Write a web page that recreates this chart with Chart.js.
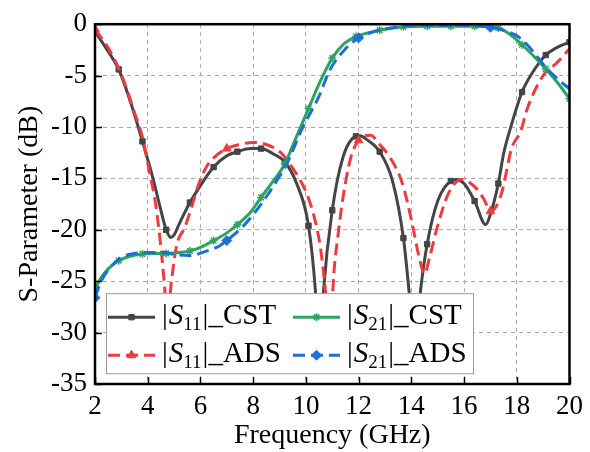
<!DOCTYPE html>
<html><head><meta charset="utf-8">
<script src="https://cdn.jsdelivr.net/npm/chart.js@4.4.1/dist/chart.umd.min.js"></script>
<style>html,body{margin:0;padding:0;background:#fff}#wrap{width:590px;height:452px;position:relative}</style>
</head><body><div id="wrap"><canvas id="c" width="590" height="452"></canvas></div>
<script>
// ---- data ----
const xTicks = [2, 4, 6, 8, 10, 12, 14, 16, 18, 20];
const yTicks = [0, -5, -10, -15, -20, -25, -30, -35];

const s11CstFreq = [2.0,2.45,2.9,3.35,3.8,4.2,4.45,4.7,4.88,5.0,5.2,5.6,6.0,6.5,7.0,7.4,7.9,8.3,8.75,9.2,9.65,10.1,10.36,10.52,10.67,11.0,11.4,11.9,12.05,12.3,12.8,13.28,13.7,13.91,14.13,14.35,14.6,15.0,15.5,15.7,16.0,16.4,16.82,17.0,17.3,17.5,17.75,18.2,18.55,19.1,19.5,20.0];
const s11CstDb   = [-0.7,-2.45,-4.4,-7.6,-11.4,-15.0,-17.6,-20.0,-20.75,-20.5,-19.4,-17.35,-15.7,-13.9,-12.8,-12.4,-12.1,-12.1,-12.6,-13.4,-15.5,-19.6,-25.9,-33.0,-25.9,-18.1,-13.0,-10.9,-10.85,-11.2,-12.4,-15.2,-20.8,-25.9,-32.0,-25.9,-21.4,-17.2,-15.25,-15.1,-15.5,-17.2,-19.5,-18.5,-15.5,-12.6,-10.2,-6.6,-4.9,-3.0,-2.3,-1.75];

const s11AdsFreq = [2.0,2.5,3.0,3.5,3.8,4.06,4.3,4.5,4.62,4.75,4.9,5.1,5.4,5.7,5.9,6.2,6.5,7.0,7.5,8.0,8.5,9.05,9.5,10.0,10.3,10.55,10.73,10.9,11.08,11.2,11.4,11.7,12.0,12.45,12.8,13.2,13.66,14.0,14.3,14.5,14.7,15.0,15.4,15.9,16.4,16.75,17.0,17.2,17.45,17.8,18.15,18.4,19.0,19.5,20.0];
const s11AdsDb   = [-0.5,-2.3,-4.9,-8.6,-11.0,-14.3,-17.5,-21.7,-24.9,-28.5,-25.0,-21.5,-19.8,-17.5,-15.8,-14.0,-13.0,-12.1,-11.7,-11.5,-11.7,-12.5,-14.0,-16.3,-18.6,-21.7,-25.6,-30.0,-23.6,-20.9,-17.0,-13.0,-11.3,-10.8,-11.7,-13.0,-15.5,-19.0,-22.7,-24.3,-22.6,-19.6,-16.5,-15.1,-15.8,-17.0,-18.2,-17.8,-16.2,-12.1,-10.4,-8.2,-5.0,-3.8,-2.4];

const s21CstFreq = [2.0,2.2,2.5,2.9,3.3,3.8,4.3,4.7,5.2,5.6,6.0,6.5,7.0,7.4,7.9,8.3,8.75,9.2,9.6,10.1,10.5,11.0,11.45,11.9,12.35,12.8,13.25,13.7,14.6,15.5,16.4,17.0,17.3,17.75,18.2,18.6,19.1,19.55,20.0];
const s21CstDb   = [-25.8,-24.8,-23.8,-23.0,-22.6,-22.35,-22.3,-22.3,-22.2,-22.05,-21.7,-21.05,-20.3,-19.5,-18.3,-16.85,-15.3,-13.6,-11.2,-8.2,-5.8,-3.3,-1.9,-1.2,-0.85,-0.58,-0.4,-0.26,-0.2,-0.2,-0.2,-0.25,-0.36,-1.0,-2.0,-3.0,-4.35,-5.7,-7.25];

const s21AdsFreq = [2.0,2.2,2.5,3.0,3.5,4.0,4.6,5.0,5.6,6.2,6.7,7.0,7.6,8.1,8.6,9.0,9.3,9.85,10.5,10.9,11.5,12.0,12.5,13.0,13.5,14.0,15.0,16.0,17.0,17.5,18.1,18.6,19.1,19.5,20.0];
const s21AdsDb   = [-26.6,-25.2,-23.9,-22.7,-22.3,-22.2,-22.2,-22.4,-22.5,-22.1,-21.6,-21.05,-19.7,-18.2,-16.4,-14.8,-13.45,-10.2,-7.0,-4.5,-2.4,-1.33,-0.8,-0.45,-0.25,-0.15,-0.12,-0.12,-0.3,-0.6,-1.3,-2.6,-4.2,-5.2,-6.3];

// ---- helpers ----
function pts(fx, fy) { return fx.map((x, i) => ({ x: x, y: fy[i] })); }
function onStep(x, start, step) {
  const k = (x - start) / step;
  return Math.abs(k - Math.round(k)) < 1e-6;
}
function markerRadius(start, step, r) {
  return ctx => (ctx.raw && onStep(ctx.raw.x, start, step)) ? r : 0;
}

const FONT = '"Liberation Serif", "Times New Roman", serif';
const C_BLACK = '#454545', C_RED = '#ee3b3f', C_GREEN = '#2ca35f', C_BLUE = '#1f6ed6';

const seriesDefs = [
  { sub: '11', name: 'CST', color: C_BLACK, dash: [], style: 'rect', r: 3.8, bw: 1 },
  { sub: '11', name: 'ADS', color: C_RED, dash: [12, 6], style: 'triangle', r: 5, bw: 1 },
  { sub: '21', name: 'CST', color: C_GREEN, dash: [], style: 'star', r: 4, bw: 1.5 },
  { sub: '21', name: 'ADS', color: C_BLUE, dash: [12, 6], style: 'rectRot', r: 5, bw: 1 }
];

function mkDataset(def, data, start, step, order) {
  return {
    data: data,
    borderColor: def.color,
    backgroundColor: def.color,
    borderWidth: 3,
    borderDash: def.dash,
    cubicInterpolationMode: 'monotone',
    pointStyle: def.style,
    pointRadius: markerRadius(start, step, def.r),
    pointBorderWidth: def.bw,
    pointBorderColor: def.color,
    pointBackgroundColor: def.color,
    pointHoverRadius: 0,
    order: order
  };
}

const framePlugin = {
  id: 'frame',
  afterDatasetsDraw(chart) {
    const ctx = chart.ctx, ca = chart.chartArea;
    // legend box
    const L = ca.left + 11, T = ca.top + 269, W = 367, H = 80;
    ctx.save();
    ctx.fillStyle = '#ffffff';
    ctx.fillRect(L, T, W, H);
    ctx.strokeStyle = '#9a9a9a';
    ctx.lineWidth = 1;
    ctx.strokeRect(L + 0.5, T + 0.5, W, H);
    const cols = [L + 2, L + 187];
    const rows = [T + 24, T + 62];
    const layout = [[0, 0, 0], [1, 0, 1], [2, 1, 0], [3, 1, 1]];
    layout.forEach(([si, col, row]) => {
      const d = seriesDefs[si];
      const x0 = cols[col], y0 = rows[row];
      ctx.save();
      ctx.strokeStyle = d.color;
      ctx.lineWidth = 3;
      ctx.setLineDash(d.dash);
      ctx.beginPath();
      ctx.moveTo(x0, y0);
      ctx.lineTo(x0 + 47, y0);
      ctx.stroke();
      ctx.setLineDash([]);
      ctx.fillStyle = d.color;
      ctx.strokeStyle = d.color;
      ctx.lineWidth = d.bw;
      Chart.helpers.drawPoint(ctx, { pointStyle: d.style, radius: d.r, rotation: 0, borderWidth: d.bw }, x0 + 23.5, y0);
      ctx.restore();
      // label |S_sub|_name
      let tx = x0 + 54;
      const base = y0 + 7;
      ctx.fillStyle = '#000';
      ctx.textBaseline = 'alphabetic';
      ctx.textAlign = 'left';
      ctx.font = '29px ' + FONT;
      ctx.fillText('|', tx, base); tx += ctx.measureText('|').width + 1;
      ctx.font = 'italic 29px ' + FONT;
      ctx.fillText('S', tx, base); tx += ctx.measureText('S').width;
      ctx.font = '19px ' + FONT;
      ctx.fillText(d.sub, tx, base + 6); tx += ctx.measureText(d.sub).width + 1;
      ctx.font = '29px ' + FONT;
      ctx.fillText('|_' + d.name, tx, base);
    });
    ctx.restore();
  },
  afterDraw(chart) {
    const ctx = chart.ctx, ca = chart.chartArea;
    const xs = chart.scales.x, ys = chart.scales.y;
    ctx.save();
    ctx.strokeStyle = '#000';
    ctx.lineWidth = 1.5;
    xTicks.forEach(v => {
      const p = Math.round(xs.getPixelForValue(v)) + 0.5;
      ctx.beginPath(); ctx.moveTo(p, ca.bottom); ctx.lineTo(p, ca.bottom - 7); ctx.stroke();
    });
    yTicks.forEach(v => {
      const p = Math.round(ys.getPixelForValue(v)) + 0.5;
      ctx.beginPath(); ctx.moveTo(ca.left, p); ctx.lineTo(ca.left + 7, p); ctx.stroke();
    });
    ctx.lineWidth = 2.5;
    ctx.strokeRect(ca.left, ca.top, ca.right - ca.left, ca.bottom - ca.top);
    ctx.restore();
  }
};

new Chart(document.getElementById('c'), {
  type: 'line',
  data: {
    datasets: [
      mkDataset(seriesDefs[0], pts(s11CstFreq, s11CstDb), 2, 0.9, 4),
      mkDataset(seriesDefs[1], pts(s11AdsFreq, s11AdsDb), 2, 5, 3),
      mkDataset(seriesDefs[2], pts(s21CstFreq, s21CstDb), 2, 0.9, 2),
      mkDataset(seriesDefs[3], pts(s21AdsFreq, s21AdsDb), 2, 5, 1)
    ]
  },
  options: {
    responsive: false,
    animation: false,
    events: [],
    layout: { padding: { top: 23, right: 14, left: 0, bottom: 0 } },
    plugins: { legend: { display: false }, tooltip: { enabled: false } },
    scales: {
      x: {
        type: 'linear', min: 2, max: 20,
        afterBuildTicks: s => { s.ticks = xTicks.map(v => ({ value: v })); },
        afterFit: s => { s.height = 68; },
        ticks: { color: '#000', font: { family: FONT, size: 27 }, padding: 7, maxRotation: 0 },
        grid: { color: '#a8a8a8', lineWidth: 1, drawTicks: false },
        border: { display: false, dash: [4, 4] },
        title: { display: true, text: 'Frequency (GHz)', color: '#000', font: { family: FONT, size: 28 }, padding: 0 }
      },
      y: {
        type: 'linear', min: -35, max: 0,
        afterBuildTicks: s => { s.ticks = yTicks.map(v => ({ value: v })); },
        afterFit: s => { s.width = 95; },
        ticks: { color: '#000', font: { family: FONT, size: 27 }, padding: 8, callback: v => String(v) },
        grid: { color: '#a8a8a8', lineWidth: 1, drawTicks: false },
        border: { display: false, dash: [4, 4] },
        title: { display: true, text: 'S-Parameter (dB)', color: '#000', font: { family: FONT, size: 28 }, padding: { top: 13, bottom: 0 } }
      }
    }
  },
  plugins: [framePlugin]
});
</script></body></html>
